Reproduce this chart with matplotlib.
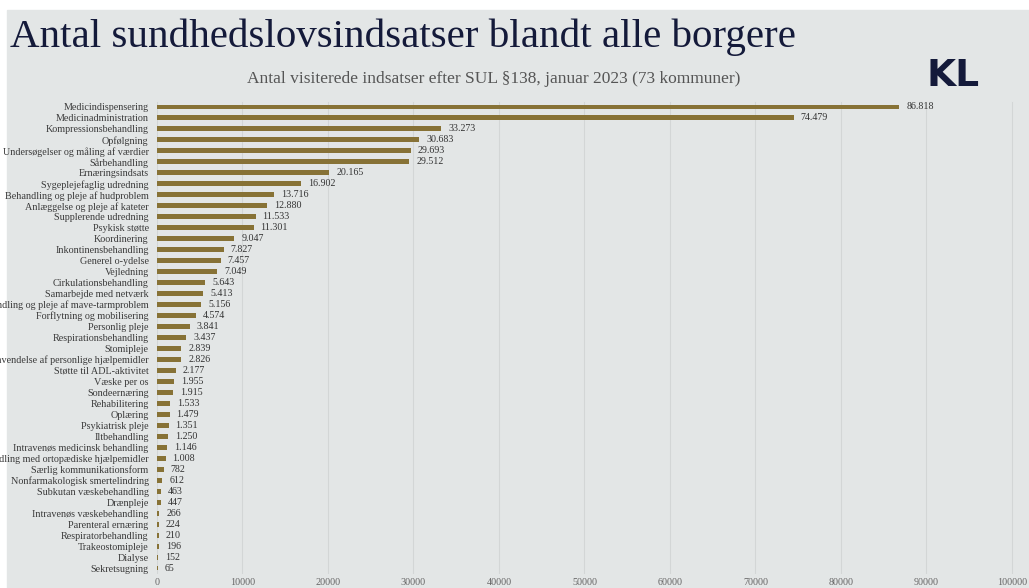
import matplotlib
matplotlib.use("Agg")
import matplotlib.pyplot as plt
from matplotlib.patches import Rectangle

categories = [
    "Medicindispensering", "Medicinadministration", "Kompressionsbehandling",
    "Opfølgning", "Undersøgelser og måling af værdier", "Sårbehandling",
    "Ernæringsindsats", "Sygeplejefaglig udredning",
    "Behandling og pleje af hudproblem", "Anlæggelse og pleje af kateter",
    "Supplerende udredning", "Psykisk støtte", "Koordinering",
    "Inkontinensbehandling", "Generel o-ydelse", "Vejledning",
    "Cirkulationsbehandling", "Samarbejde med netværk",
    "Behandling og pleje af mave-tarmproblem", "Forflytning og mobilisering",
    "Personlig pleje", "Respirationsbehandling", "Stomipleje",
    "Anvendelse af personlige hjælpemidler", "Støtte til ADL-aktivitet",
    "Væske per os", "Sondeernæring", "Rehabilitering", "Oplæring",
    "Psykiatrisk pleje", "Iltbehandling", "Intravenøs medicinsk behandling",
    "Behandling med ortopædiske hjælpemidler", "Særlig kommunikationsform",
    "Nonfarmakologisk smertelindring", "Subkutan væskebehandling", "Drænpleje",
    "Intravenøs væskebehandling", "Parenteral ernæring", "Respiratorbehandling",
    "Trakeostomipleje", "Dialyse", "Sekretsugning",
]
values = [
    86818, 74479, 33273, 30683, 29693, 29512, 20165, 16902, 13716, 12880,
    11533, 11301, 9047, 7827, 7457, 7049, 5643, 5413, 5156, 4574,
    3841, 3437, 2839, 2826, 2177, 1955, 1915, 1533, 1479, 1351,
    1250, 1146, 1008, 782, 612, 463, 447, 266, 224, 210,
    196, 152, 65,
]
xticks = [0, 10000, 20000, 30000, 40000, 50000, 60000, 70000, 80000, 90000, 100000]

title = "Antal sundhedslovsindsatser blandt alle borgere"
subtitle = "Antal visiterede indsatser efter SUL §138, januar 2023 (73 kommuner)"

W, H = 1029, 588
BG = "#e3e6e6"
BAR = "#877236"
NAVY = "#141a3a"
SERIF = ["Liberation Serif", "DejaVu Serif"]

fig = plt.figure(figsize=(W / 100, H / 100), dpi=100)
fig.patch.set_facecolor("white")
fig.patches.append(Rectangle((7 / W, 0), 1 - 7 / W, 1 - 10 / H,
                             transform=fig.transFigure, color=BG, zorder=-10))

top_px, bot_px = 101.5, 573.5
ax = fig.add_axes([157 / W, 1 - bot_px / H, 1 - 157 / W, (bot_px - top_px) / H])
ax.set_facecolor("none")

n = len(categories)
ypos = list(range(n))
ax.barh(ypos, values, height=0.45, color=BAR, zorder=3)
ax.set_ylim(n - 0.5, -0.5)
ax.set_xlim(0, 102000)

for y, v in zip(ypos, values):
    ax.annotate(f"{v:,}".replace(",", "."), xy=(v, y), xytext=(5, 0),
                textcoords="offset points", va="center", ha="left",
                fontsize=7.2, color="#333333", family=SERIF)

ax.set_yticks(ypos)
ax.set_yticklabels(categories, family=SERIF, fontsize=7.3, color="#3a3a3a")
ax.set_xticks(xticks)
ax.set_xticklabels([str(t) for t in xticks], family=SERIF, fontsize=7.3, color="#666666")
ax.tick_params(axis="both", length=0)
ax.tick_params(axis="y", pad=6)
ax.tick_params(axis="x", pad=3)
for s in ax.spines.values():
    s.set_visible(False)
ax.grid(axis="x", color="#d3d6d6", linewidth=0.8, zorder=0)
ax.set_axisbelow(True)

fig.text(10 / W, 1 - 47 / H, title, family=SERIF, fontsize=29.5, color=NAVY,
         ha="left", va="baseline")
fig.text(494 / W, 1 - 83 / H, subtitle, family=SERIF, fontsize=12.5, color="#555555",
         ha="center", va="baseline")
fig.text(953 / W, 1 - 86 / H, "KL", family=["DejaVu Sans"], fontsize=27,
         fontweight="bold", color=NAVY, ha="center", va="baseline")

fig.savefig("out.png", dpi=100, facecolor=fig.get_facecolor())
